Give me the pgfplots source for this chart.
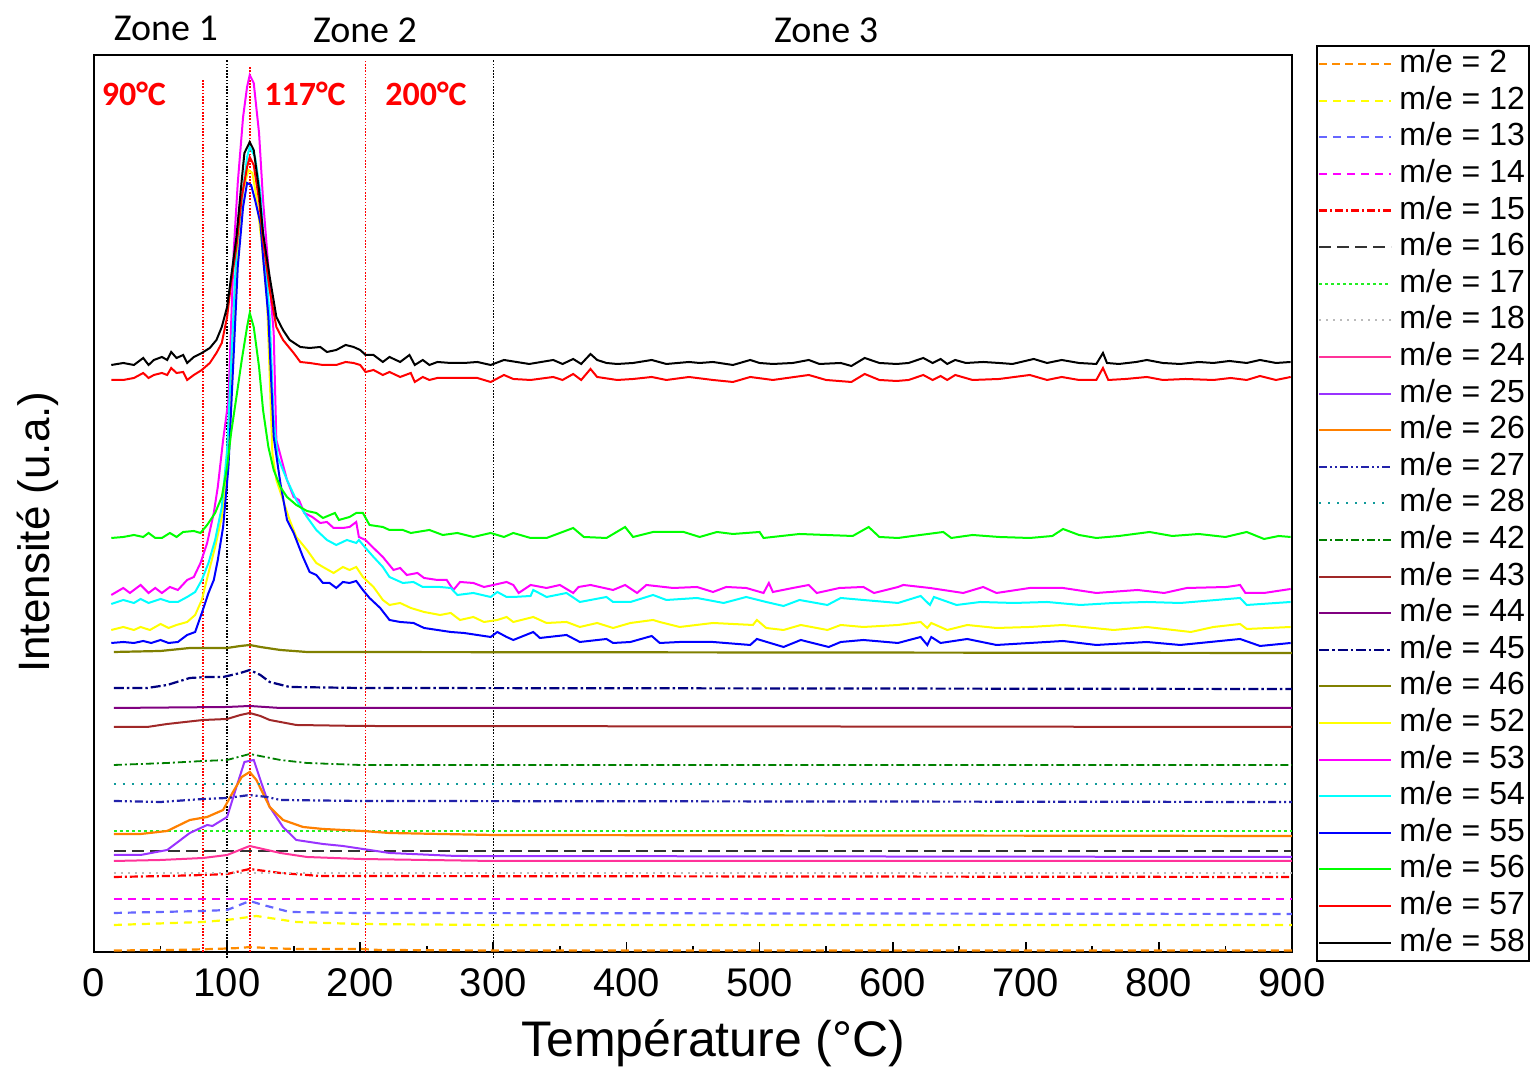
\documentclass[border=0pt]{standalone}
\usepackage{pgfplots}
\pgfplotsset{compat=1.18}
\usepackage{fontspec}
\setmainfont{Liberation Sans}
\newfontfamily\calibri{Carlito}
\definecolor{c2}{HTML}{FF8C00}
\definecolor{c12}{HTML}{FFFF00}
\definecolor{c13}{HTML}{6666FF}
\definecolor{c14}{HTML}{FF00FF}
\definecolor{c15}{HTML}{FF0000}
\definecolor{c16}{HTML}{333333}
\definecolor{c17}{HTML}{22EE22}
\definecolor{c18}{HTML}{BBBBBB}
\definecolor{c24}{HTML}{FF3399}
\definecolor{c25}{HTML}{9933FF}
\definecolor{c26}{HTML}{FF8000}
\definecolor{c27}{HTML}{2222AA}
\definecolor{c28}{HTML}{109A9A}
\definecolor{c42}{HTML}{008000}
\definecolor{c43}{HTML}{A02828}
\definecolor{c44}{HTML}{800080}
\definecolor{c45}{HTML}{000080}
\definecolor{c46}{HTML}{808000}
\definecolor{c52}{HTML}{FFFF00}
\definecolor{c53}{HTML}{FF00FF}
\definecolor{c54}{HTML}{00FFFF}
\definecolor{c55}{HTML}{0000FF}
\definecolor{c56}{HTML}{00FF00}
\definecolor{c57}{HTML}{FF0000}
\definecolor{c58}{HTML}{000000}
\begin{document}
\begin{tikzpicture}
\useasboundingbox (0,0) rectangle (766pt,534pt);
\begin{axis}[
  at={(47pt,58pt)}, anchor=south west,
  scale only axis, width=599pt, height=448.5pt,
  xmin=0, xmax=900, ymin=0, ymax=897,
  clip=false,
  axis line style={line width=1.4pt},
  xtick={0,100,...,900}, minor x tick num=1,
  xtick pos=bottom, tick align=inside,
  major tick length=5pt, minor tick length=3pt,
  every tick/.style={black, line width=0.9pt},
  ytick=\empty,
  /pgf/number format/assume math mode=true,
  xticklabel style={font=\fontsize{20}{24}\selectfont, yshift=-5pt},
  xlabel={Température (°C)},
  xlabel style={font=\fontsize{25}{30}\selectfont, at={(axis description cs:0.517,0)}, anchor=center, yshift=-45.5pt},
  ylabel={Intensité (u.a.)},
  ylabel style={font=\fontsize{22}{26}\selectfont, at={(axis description cs:-0.0467,0.468)}, anchor=center},
  legend style={at={(1,1)}, anchor=north west, xshift=12pt, yshift=5pt, draw=black, line width=0.9pt,
    font=\fontsize{16}{18}\selectfont, inner xsep=0.5pt, inner ysep=0pt, row sep=0pt, column sep=2pt,
    nodes={inner xsep=1.5pt, inner ysep=1.4pt, text height=12pt, text depth=3.5pt}},
  legend cell align=left,
  legend image code/.code={\draw[#1] (0pt,0pt) -- (36pt,0pt);},
]
% reference lines
\addplot[forget plot, red, line width=0.8pt, dash pattern=on 0.8pt off 0.8pt] coordinates {(82,0) (82,872)};
\addplot[forget plot, red, line width=0.8pt, dash pattern=on 0.8pt off 0.8pt] coordinates {(117,0) (117,886)};
\addplot[forget plot, red, line width=0.8pt, dash pattern=on 0.8pt off 0.8pt] coordinates {(204,0) (204,892)};
\addplot[forget plot, black, line width=0.8pt, dash pattern=on 0.8pt off 0.8pt] coordinates {(100,-6) (100,892)};
\addplot[forget plot, black, line width=0.8pt, dash pattern=on 0.8pt off 0.8pt] coordinates {(300,-6) (300,892)};

% m/e = 2
\addplot[c2, line width=1.1pt, dash pattern=on 4pt off 2.5pt] coordinates {(15,1.5)(60,2)(90,3)(110,4)(117,5)(130,4)(150,3)(200,3)(215,2)(300,1.5)(900,1.5)};
\addlegendentry{m/e = 2}
% m/e = 12
\addplot[c12, line width=1.1pt, dash pattern=on 4pt off 3pt] coordinates {(15,27)(82,30)(100,32)(122,36)(152,30)(198,28)(300,27)(900,27)};
\addlegendentry{m/e = 12}
% m/e = 13
\addplot[c13, line width=1.1pt, dash pattern=on 4pt off 3pt] coordinates {(15,39)(82,41)(100,42)(117,51)(127,47)(147,40)(198,39)(900,38)};
\addlegendentry{m/e = 13}
% m/e = 14
\addplot[c14, line width=1.1pt, dash pattern=on 4pt off 3pt] coordinates {(15,53)(900,53)};
\addlegendentry{m/e = 14}
% m/e = 15
\addplot[c15, line width=1.1pt, dash pattern=on 4pt off 1.5pt on 1pt off 1.5pt] coordinates {(15,75)(55,76)(82,77)(100,78)(117,83)(140,79)(170,76)(900,75)};
\addlegendentry{m/e = 15}
% m/e = 16
\addplot[c16, line width=1.3pt, dash pattern=on 6pt off 3pt] coordinates {(15,101)(900,101)};
\addlegendentry{m/e = 16}
% m/e = 17
\addplot[c17, line width=0.8pt, dash pattern=on 1.5pt off 1.5pt] coordinates {(15,121)(900,121)};
\addlegendentry{m/e = 17}
% m/e = 18
\addplot[c18, line width=1pt, dash pattern=on 1pt off 2.5pt] coordinates {(15,79)(900,79)};
\addlegendentry{m/e = 18}
% m/e = 24
\addplot[c24, line width=1pt] coordinates {(15,91)(50,92)(82,94)(100,97)(117,106)(140,99)(160,95)(200,93)(300,91)(900,91)};
\addlegendentry{m/e = 24}
% m/e = 25
\addplot[c25, line width=1pt] coordinates {(15,97)(35,97)(55,102)(72,119)(85,127)(89,126)(100,135)(107,165)(113,190)(120,192)(125,172)(132,145)(142,125)(152,112)(172,108)(187,106)(202,103)(222,99)(272,96)(900,95)};
\addlegendentry{m/e = 25}
% m/e = 26
\addplot[c26, line width=1.1pt] coordinates {(15,118)(35,118)(55,121)(72,132)(85,135)(97,142)(104,159)(111,175)(117,180)(122,172)(132,145)(142,132)(157,125)(172,123)(202,121)(222,119)(300,117)(900,116)};
\addlegendentry{m/e = 26}
% m/e = 27
\addplot[c27, line width=1.1pt, dash pattern=on 4pt off 1.5pt on 1pt off 1.5pt on 1pt off 1.5pt] coordinates {(15,151)(50,150)(82,153)(100,154)(117,157)(130,155)(140,152)(200,151)(900,150)};
\addlegendentry{m/e = 27}
% m/e = 28
\addplot[c28, line width=1.1pt, dash pattern=on 1pt off 3.5pt] coordinates {(15,168)(900,168)};
\addlegendentry{m/e = 28}
% m/e = 42
\addplot[c42, line width=0.9pt, dash pattern=on 4pt off 1.5pt on 1pt off 1.5pt] coordinates {(15,187)(55,189)(82,191)(100,192)(117,198)(140,192)(160,189)(200,187)(900,187)};
\addlegendentry{m/e = 42}
% m/e = 43
\addplot[c43, line width=1pt] coordinates {(15,225)(40,225)(55,228)(82,232)(100,233)(110,237)(117,239)(125,236)(132,232)(152,227)(200,226)(900,225)};
\addlegendentry{m/e = 43}
% m/e = 44
\addplot[c44, line width=1pt] coordinates {(15,244)(100,245)(117,246)(140,244)(900,244)};
\addlegendentry{m/e = 44}
% m/e = 45
\addplot[c45, line width=1.1pt, dash pattern=on 5pt off 1.5pt on 1.2pt off 1.5pt] coordinates {(15,264)(40,264)(55,267)(72,274)(85,275)(97,275)(110,279)(117,282)(125,277)(132,270)(147,265)(200,264)(900,263)};
\addlegendentry{m/e = 45}
% m/e = 46
\addplot[c46, line width=1.1pt] coordinates {(15,300)(50,301)(72,304)(82,304)(100,304)(110,306)(117,307)(125,305)(140,302)(160,300)(900,299)};
\addlegendentry{m/e = 46}
% m/e = 52
\addplot[c52, line width=1pt] coordinates {(13,322)(22,325)(30,322)(35,325)(42,322)(50,328)(56,324)(62,327)(70,330)(76,337)(81,352)(86,379)(91,405)(96,435)(100,479)(108,702)(112,762)(116,782)(119,779)(122,755)(126,709)(130,652)(134,499)(137,472)(142,452)(147,432)(152,415)(160,402)(167,389)(172,385)(180,379)(187,385)(192,382)(197,385)(202,375)(210,365)(217,352)(222,347)(230,349)(238,344)(248,340)(260,337)(268,339)(275,332)(285,335)(293,330)(303,332)(310,335)
(315,330)(330,335)(340,329)(355,330)(365,325)(378,329)(390,324)(403,329)(420,332)(425,330)(440,325)(465,329)(495,327)(498,332)(505,324)(518,322)(531,327)(551,322)(561,327)(578,325)(604,327)
(621,330)(626,324)(629,329)(641,322)(656,327)(678,324)(703,325)(728,327)(766,322)(791,325)(824,320)(841,325)(861,328)(866,323)(899,325)};
\addlegendentry{m/e = 52}
% m/e = 53
\addplot[c53, line width=1pt] coordinates {(13,357)(22,364)(27,359)(35,367)(41,359)(46,364)(51,359)(57,365)(63,362)(70,372)(75,375)(80,389)(85,409)(90,439)(93,465)(97,512)(101,552)(105,702)(108,769)(112,835)(115,865)(117,877)(120,869)(124,819)(127,752)(131,685)(135,619)(137,512)(141,492)(145,472)(150,455)(154,452)(158,439)(164,435)(170,429)(175,430)(180,424)(187,424)(192,425)(197,430)(199,415)(204,412)(210,404)(217,395)(225,382)(230,384)(235,377)(243,379)(248,374)(258,372)(265,372)(270,362)(275,370)(285,369)(293,365)(300,367)(310,370)
(315,367)(319,359)(328,367)(340,364)(350,367)(360,359)(364,365)(373,367)(390,362)(399,367)(408,359)(415,367)(435,364)(453,365)(465,360)(475,365)(490,364)(503,359)(507,369)(510,360)(525,364)(537,367)(543,359)(560,364)(578,365)(586,359)(604,365)
(608,367)(628,364)(653,359)(668,365)(678,359)(703,364)(728,364)(753,359)(784,362)(804,359)(821,364)(851,365)(861,367)(865,359)(879,359)(899,363)};
\addlegendentry{m/e = 53}
% m/e = 54
\addplot[c54, line width=1pt] coordinates {(13,348)(22,352)(30,349)(35,353)(41,349)(50,353)(57,350)(63,350)(70,355)(76,360)(81,372)(86,389)(91,412)(96,445)(100,502)(107,702)(111,752)(115,795)(117,805)(121,795)(125,759)(128,702)(132,635)(135,532)(138,495)(145,472)(152,452)(160,435)(167,422)(175,412)(182,407)(190,412)(197,409)(199,412)(204,404)(210,395)(217,385)(222,375)(232,369)(240,370)(247,365)(260,365)(268,364)(273,357)(285,359)(298,355)(303,360)(310,355)
(315,355)(328,356)(330,362)(340,355)(355,359)(365,350)(385,355)(390,350)(403,350)(420,357)(430,352)(453,354)(473,349)(490,355)(505,350)(518,346)(530,352)(551,347)(561,354)(578,352)(604,349)
(621,356)(628,347)(631,355)(648,347)(666,350)(691,349)(716,350)(741,347)(766,349)(791,350)(816,349)(861,354)(866,347)(899,350)};
\addlegendentry{m/e = 54}
% m/e = 55
\addplot[c55, line width=1pt] coordinates {(13,309)(22,310)(30,309)(37,311)(43,309)(50,312)(56,309)(63,310)(70,317)(76,320)(81,339)(86,359)(90,372)(93,392)(97,425)(101,485)(108,685)(112,745)(115,769)(118,767)(121,752)(125,729)(127,695)(131,635)(135,515)(140,469)(145,432)(150,419)(157,395)(162,380)(167,377)(172,369)(177,369)(182,364)(187,370)(192,369)(197,371)(202,362)(207,354)(215,344)(222,332)(230,330)(240,329)(248,324)(258,322)(268,320)(278,319)(288,317)(298,315)(303,320)(310,315)
(315,312)(330,320)(335,314)(355,317)(365,310)(385,313)(390,309)(403,310)(419,316)(425,309)(440,310)(465,310)(493,307)(498,313)(518,305)(531,312)(552,305)(561,310)(578,312)(604,309)
(621,315)(626,307)(629,315)(636,309)(656,313)(678,307)(703,309)(728,311)(753,307)(791,310)(816,307)(861,313)(876,306)(899,309)};
\addlegendentry{m/e = 55}
% m/e = 56
\addplot[c56, line width=1pt] coordinates {(13,414)(22,415)(30,417)(37,415)(41,419)(46,414)(51,414)(57,419)(62,415)(67,420)(75,421)(80,419)(85,427)(91,439)(96,455)(100,485)(103,519)(107,555)(111,592)(115,625)(117,639)(120,625)(124,585)(127,542)(131,505)(135,482)(140,465)(145,455)(152,447)(160,441)(167,439)(172,434)(181,439)(184,432)(192,435)(197,439)(202,439)(207,427)(217,425)(222,422)(232,422)(238,419)(252,422)(262,417)(273,419)(285,415)(298,419)(308,415)
(315,419)(328,414)(340,414)(360,424)(368,415)(385,414)(399,425)(405,415)(420,420)(443,420)(455,415)(468,420)(480,418)(500,420)(503,414)(530,418)(550,417)(570,416)(582,425)(590,415)(604,414)
(615,416)(638,420)(644,414)(660,417)(680,415)(703,414)(720,416)(728,423)(740,417)(753,414)(770,416)(793,420)(810,416)(830,418)(850,415)(866,420)(879,413)(890,416)(899,415)};
\addlegendentry{m/e = 56}
% m/e = 57
\addplot[c57, line width=1pt] coordinates {(13,572)(22,572)(30,574)(37,579)(41,574)(45,577)(51,579)(55,577)(58,584)(62,579)(67,580)(70,572)(75,577)(81,582)(87,589)(92,599)(96,609)(100,635)(103,669)(107,705)(111,755)(115,785)(117,795)(120,787)(124,752)(127,712)(132,662)(137,625)(142,612)(150,599)(155,590)(162,589)(172,587)(182,587)(189,590)(195,589)(200,587)(204,580)(210,582)(217,577)(222,580)(230,575)(238,579)(241,570)(247,575)(252,572)(258,574)(268,574)(288,574)(298,570)(308,577)
(315,573)(328,572)(345,575)(352,572)(360,578)(366,572)(373,583)(378,575)(393,572)(405,573)(419,575)(430,572)(447,575)(465,572)(480,570)(493,575)(510,572)(537,577)(550,572)(569,570)(579,578)(590,572)(603,571)
(612,572)(623,577)(630,572)(636,576)(641,572)(647,577)(660,572)(680,573)(703,577)(716,572)(727,575)(740,572)(753,572)(758,584)(762,572)(775,573)(791,575)(803,572)(820,573)(841,572)(854,574)(866,572)(876,576)(888,572)(899,575)};
\addlegendentry{m/e = 57}
% m/e = 58
\addplot[c58, line width=1pt] coordinates {(13,587)(22,589)(30,587)(37,594)(41,587)(45,592)(51,595)(55,592)(58,600)(62,594)(67,597)(70,589)(75,595)(81,599)(87,604)(92,612)(96,625)(100,645)(103,675)(107,715)(111,772)(113,799)(117,810)(120,802)(124,762)(127,719)(132,675)(137,635)(142,622)(147,612)(155,605)(162,604)(170,605)(175,600)(182,602)(189,607)(195,605)(200,602)(204,597)(210,597)(217,590)(222,595)(230,590)(237,597)(241,587)(247,592)(252,587)(258,590)(268,589)(278,589)(288,590)(298,587)(308,592)
(327,588)(345,592)(352,588)(360,593)(366,588)(373,598)(378,592)(385,589)(393,588)(405,589)(419,592)(430,588)(447,590)(455,589)(465,590)(480,587)(493,592)(500,589)(510,588)(525,589)(537,592)(545,588)(561,589)(569,586)(579,594)(590,589)(603,588)
(612,589)(623,594)(630,589)(636,593)(641,588)(647,592)(655,589)(668,590)(680,589)(690,588)(706,593)(716,589)(727,592)(740,589)(753,588)(758,599)(761,589)(770,588)(783,590)(791,592)(803,589)(816,588)(830,590)(841,589)(853,591)(866,589)(876,592)(888,589)(899,590)};
\addlegendentry{m/e = 58}

% annotations
\node[text=red, font=\calibri\bfseries\fontsize{17}{20}\selectfont] at (axis cs:30,858) {90°C};
\node[text=red, font=\calibri\bfseries\fontsize{17}{20}\selectfont] at (axis cs:158.5,858) {117°C};
\node[text=red, font=\calibri\bfseries\fontsize{17}{20}\selectfont] at (axis cs:249.4,858) {200°C};
\node[font=\calibri\fontsize{19}{22}\selectfont] at (axis cs:54,924) {Zone 1};
\node[font=\calibri\fontsize{19}{22}\selectfont] at (axis cs:203.6,922) {Zone 2};
\node[font=\calibri\fontsize{19}{22}\selectfont] at (axis cs:550,922) {Zone 3};
\end{axis}
\end{tikzpicture}
\end{document}
